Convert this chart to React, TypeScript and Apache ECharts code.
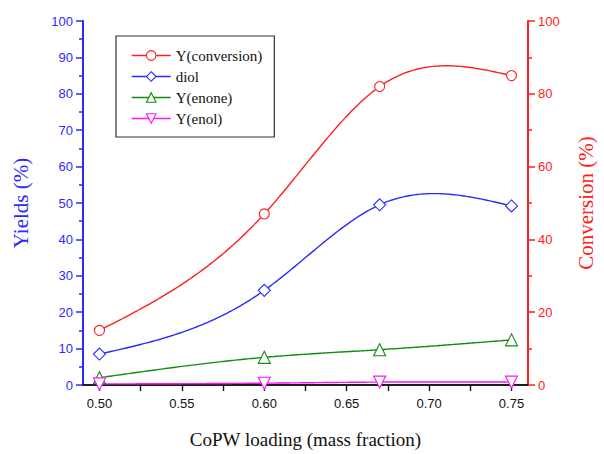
import React, { useEffect, useRef } from "react";
import * as echarts from "echarts";

const loading = [0.5, 0.6, 0.67, 0.75];
const conversion = [15, 47, 82, 85];
const diol = [8.5, 26, 49.5, 49.2];
const enone = [2, 7.6, 9.7, 12.4];
const enol = [0.3, 0.5, 0.8, 0.8];

const xMajorTicks = [0.5, 0.55, 0.6, 0.65, 0.7, 0.75];
const xAllTicks = [0.5, 0.525, 0.55, 0.575, 0.6, 0.625, 0.65, 0.675, 0.7, 0.725, 0.75];

const pairs = (ys: number[]) => loading.map((x, i) => [x, ys[i]]);

const BLUE = "#2b2bff";
const RED = "#ff2020";
const GREEN = "#138a13";
const MAGENTA = "#ff10ff";

// natural cubic spline through the data points (rendering of the connecting curve)
function splineSampler(xs: number[], ys: number[]) {
  const n = xs.length;
  const h: number[] = [];
  for (let i = 0; i < n - 1; i++) h.push(xs[i + 1] - xs[i]);
  const M = new Array(n).fill(0);
  const a: number[] = [], b: number[] = [], c: number[] = [], d: number[] = [];
  for (let i = 1; i < n - 1; i++) {
    a.push(h[i - 1]);
    b.push(2 * (h[i - 1] + h[i]));
    c.push(h[i]);
    d.push(6 * ((ys[i + 1] - ys[i]) / h[i] - (ys[i] - ys[i - 1]) / h[i - 1]));
  }
  const m = b.length;
  for (let i = 1; i < m; i++) {
    const w = a[i] / b[i - 1];
    b[i] -= w * c[i - 1];
    d[i] -= w * d[i - 1];
  }
  const sol = new Array(m).fill(0);
  for (let i = m - 1; i >= 0; i--) {
    sol[i] = (d[i] - (i < m - 1 ? c[i] * sol[i + 1] : 0)) / b[i];
  }
  for (let i = 0; i < m; i++) M[i + 1] = sol[i];
  return (x: number) => {
    let i = 0;
    while (i < n - 2 && x > xs[i + 1]) i++;
    const hi = h[i];
    const t1 = xs[i + 1] - x;
    const t0 = x - xs[i];
    return (
      (M[i] * t1 * t1 * t1) / (6 * hi) +
      (M[i + 1] * t0 * t0 * t0) / (6 * hi) +
      (ys[i] / hi - (M[i] * hi) / 6) * t1 +
      (ys[i + 1] / hi - (M[i + 1] * hi) / 6) * t0
    );
  };
}

function curveSeries(ys: number[], color: string, yAxisIndex: number) {
  const f = splineSampler(loading, ys);
  return {
    type: "custom",
    coordinateSystem: "cartesian2d",
    yAxisIndex,
    silent: true,
    z: 1,
    data: pairs(ys),
    encode: { x: 0, y: 1 },
    renderItem: (params: any, api: any) => {
      if (params.dataIndex !== 0) return null;
      const pts: number[][] = [];
      const x0 = loading[0];
      const x1 = loading[loading.length - 1];
      const steps = 200;
      for (let k = 0; k <= steps; k++) {
        const x = x0 + ((x1 - x0) * k) / steps;
        pts.push(api.coord([x, f(x)]));
      }
      return {
        type: "polyline",
        shape: { points: pts },
        style: { stroke: color, lineWidth: 1.4, fill: "none" },
      };
    },
  };
}

function markSeries(name: string, ys: number[], color: string, symbol: string, size: number, yAxisIndex: number, rotate = 0) {
  return {
    name,
    type: "line",
    yAxisIndex,
    data: pairs(ys),
    symbol,
    symbolSize: size,
    symbolRotate: rotate,
    z: 3,
    color,
    lineStyle: { color, width: 1.4, opacity: 0 },
    itemStyle: { color: "#ffffff", borderColor: color, borderWidth: 1.1 },
  };
}

export default function App() {
  const ref = useRef<HTMLDivElement>(null);
  useEffect(() => {
    if (!ref.current) return;
    const chart = echarts.init(ref.current, undefined, { renderer: "svg" });
    const serif = "'Liberation Serif', 'Times New Roman', serif";
    const sans = "'Liberation Sans', Arial, sans-serif";
    chart.setOption({
      animation: false,
      backgroundColor: "#ffffff",
      grid: { left: 83, right: 72, top: 21, bottom: 67, containLabel: false },
      legend: {
        orient: "vertical",
        left: 116,
        top: 36,
        padding: [12, 12, 11, 15],
        itemWidth: 39,
        itemHeight: 12,
        itemGap: 6,
        borderColor: "#333",
        borderWidth: 1.2,
        lineStyle: { opacity: 1, width: 1.4 },
        itemStyle: { borderWidth: 1.1 },
        textStyle: { fontFamily: serif, fontSize: 15, color: "#111" },
        data: ["Y(conversion)", "diol", "Y(enone)", "Y(enol)"],
      },
      xAxis: [
        {
          type: "value",
          min: 0.49,
          max: 0.76,
          position: "bottom",
          name: "CoPW loading (mass fraction)",
          nameLocation: "middle",
          nameGap: 45,
          nameTextStyle: { fontFamily: serif, fontSize: 19, color: "#111" },
          axisLine: { show: true, lineStyle: { color: "#111", width: 1.5 } },
          axisTick: { show: true, inside: false, length: 6, customValues: xAllTicks, lineStyle: { color: "#111", width: 1.2 } },
          axisLabel: {
            customValues: xMajorTicks,
            margin: 12,
            fontFamily: sans,
            fontSize: 13,
            color: "#111",
            formatter: (v: number) => v.toFixed(2),
          },
          splitLine: { show: false },
        },
        {
          type: "value",
          min: 0.49,
          max: 0.76,
          position: "top",
          axisLine: { show: true, lineStyle: { color: "#111", width: 1.5 } },
          axisTick: { show: true, inside: true, length: 6, customValues: xAllTicks, lineStyle: { color: "#111", width: 1.2 } },
          axisLabel: { show: false },
          splitLine: { show: false },
        },
      ],
      yAxis: [
        {
          type: "value",
          min: 0,
          max: 100,
          interval: 10,
          position: "left",
          name: "Yields (%)",
          nameLocation: "middle",
          nameGap: 52,
          nameRotate: 90,
          nameTextStyle: { fontFamily: serif, fontSize: 21, color: BLUE },
          axisLine: { show: true, lineStyle: { color: BLUE, width: 2 } },
          axisTick: { show: true, length: 7, lineStyle: { color: BLUE, width: 1.5 } },
          minorTick: { show: true, splitNumber: 2, length: 4, lineStyle: { color: BLUE, width: 1.5 } },
          axisLabel: { margin: 10, fontFamily: sans, fontSize: 13, color: BLUE },
          splitLine: { show: false },
        },
        {
          type: "value",
          min: 0,
          max: 100,
          interval: 20,
          position: "right",
          name: "Conversion (%)",
          nameLocation: "middle",
          nameGap: 47,
          nameRotate: 90,
          nameTextStyle: { fontFamily: serif, fontSize: 21, color: RED },
          axisLine: { show: true, lineStyle: { color: RED, width: 2 } },
          axisTick: { show: true, length: 7, lineStyle: { color: RED, width: 1.5 } },
          minorTick: { show: true, splitNumber: 2, length: 4, lineStyle: { color: RED, width: 1.5 } },
          axisLabel: { margin: 10, fontFamily: sans, fontSize: 13, color: RED },
          splitLine: { show: false },
        },
      ],
      series: [
        curveSeries(conversion, RED, 1),
        curveSeries(diol, BLUE, 0),
        curveSeries(enone, GREEN, 0),
        curveSeries(enol, MAGENTA, 0),
        markSeries("Y(conversion)", conversion, RED, "circle", 10, 1),
        markSeries("diol", diol, BLUE, "diamond", 12, 0),
        markSeries("Y(enone)", enone, GREEN, "triangle", 12, 0),
        markSeries("Y(enol)", enol, MAGENTA, "triangle", 12, 0, 180),
      ],
    });
    return () => chart.dispose();
  }, []);
  return (
    <div
      ref={ref}
      style={{ position: "fixed", left: 0, top: 0, width: 604, height: 454, background: "#fff" }}
    />
  );
}
